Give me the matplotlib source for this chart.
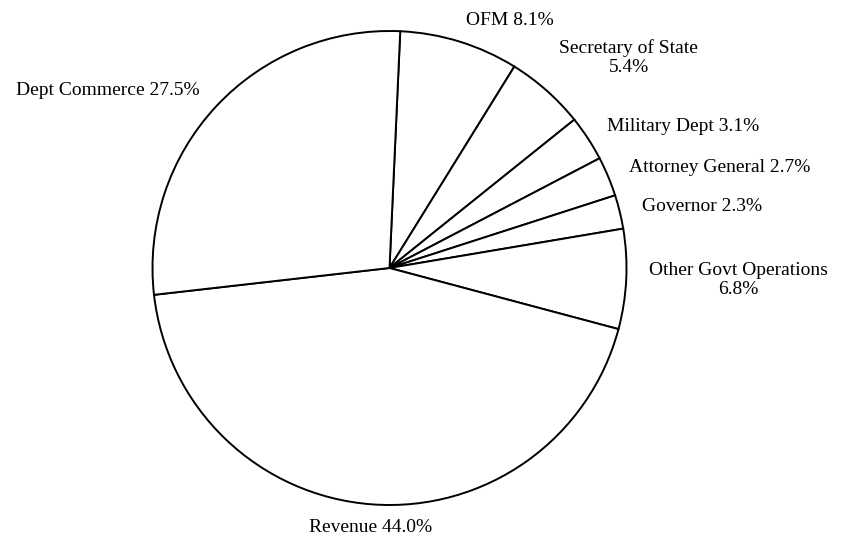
import numpy as np
from matplotlib import pyplot as plt

labels = ['OFM', 'Secretary of State', 'Military Dept', 'Attorney General',
          'Governor', 'Other Govt Operations', 'Revenue', 'Dept Commerce']
shares = [8.1, 5.4, 3.1, 2.7, 2.3, 6.8, 44.0, 27.5]
# label text layout: separator between name and value
seps = [' ', '\n', ' ', ' ', ' ', '\n', ' ', ' ']

plt.rcParams['font.family'] = ['Liberation Serif', 'DejaVu Serif']

fig = plt.figure(figsize=(8.48, 5.42), dpi=100)
ax = fig.add_axes([0, 0, 1, 1])

wedges, _ = ax.pie(shares, startangle=87.4, counterclock=False,
                   colors=['white'] * len(shares),
                   wedgeprops=dict(edgecolor='black', linewidth=1.4))

va_list = ['center', 'bottom', 'center', 'center', 'center', 'center',
           'top', 'center']
dist = [1.095, 1.08, 1.095, 1.095, 1.095, 1.095, 1.06, 1.095]
for w, lab, s, sep, va, d in zip(wedges, labels, shares, seps, va_list, dist):
    ang = np.deg2rad((w.theta1 + w.theta2) / 2)
    x, y = d * np.cos(ang), d * np.sin(ang)
    if abs(np.cos(ang)) < 0.2:
        ha = 'center'
    elif np.cos(ang) > 0:
        ha = 'left'
    else:
        ha = 'right'
    ax.text(x, y, f'{lab}{sep}{s:.1f}%', ha=ha, va=va,
            multialignment='center', fontsize=14)

r = 237
ax.set_xlim(-389.5 / r, (848 - 389.5) / r)
ax.set_ylim(-(542 - 268) / r, 268 / r)
ax.set_aspect('equal')
ax.axis('off')

fig.savefig('out.png', dpi=100)
